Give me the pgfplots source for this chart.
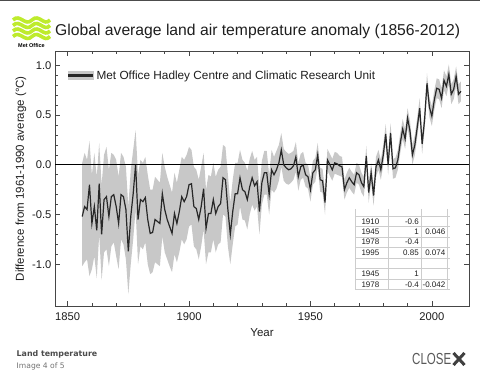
\documentclass[border=0pt]{standalone}
\usepackage{pgfplots}
\pgfplotsset{compat=1.18}
\usepackage{pgfplotstable}
\usepgfplotslibrary{fillbetween}
\usepackage{fontspec}
\setmainfont{Liberation Sans}
\newfontfamily\dejavu{DejaVu Sans}
\definecolor{bandc}{RGB}{200,200,200}
\definecolor{linec}{RGB}{40,40,40}
\definecolor{axc}{RGB}{70,70,70}
\definecolor{txt}{RGB}{30,30,30}
\definecolor{lime}{RGB}{190,235,45}
\definecolor{gridc}{RGB}{205,205,205}

\pgfplotstableread{
year val lo hi
1856 -0.52 -1.02 0.02
1857 -0.42 -0.98 0.12
1858 -0.45 -0.95 0.05
1859 -0.20 -1.12 0.24
1860 -0.59 -1.05 -0.10
1861 -0.42 -0.92 0.12
1862 -0.66 -1.14 -0.12
1863 -0.19 -0.70 0.22
1864 -0.70 -1.16 -0.20
1865 -0.35 -0.88 0.10
1866 -0.32 -0.85 0.18
1867 -0.52 -1.02 -0.05
1868 -0.32 -0.82 0.12
1869 -0.30 -0.78 0.10
1870 -0.42 -0.92 0.05
1871 -0.59 -1.05 -0.12
1872 -0.30 -0.75 0.12
1873 -0.32 -0.80 0.08
1874 -0.45 -0.95 -0.02
1875 -0.87 -1.30 -0.42
1876 -0.52 -1.00 -0.05
1877 -0.29 -0.75 0.15
1878 0.00 -0.45 0.35
1879 -0.55 -1.00 -0.10
1880 -0.35 -0.82 0.05
1881 -0.37 -0.85 0.02
1882 -0.33 -0.78 0.08
1883 -0.55 -1.00 -0.10
1884 -0.69 -1.10 -0.25
1885 -0.68 -1.08 -0.25
1886 -0.55 -0.98 -0.12
1887 -0.57 -1.00 -0.15
1888 -0.59 -1.02 -0.18
1889 -0.29 -0.72 0.12
1890 -0.45 -0.88 -0.02
1891 -0.55 -0.95 -0.12
1892 -0.62 -1.02 -0.20
1893 -0.69 -1.08 -0.28
1894 -0.49 -0.90 -0.08
1895 -0.59 -0.98 -0.18
1896 -0.47 -0.88 -0.05
1897 -0.32 -0.75 0.08
1898 -0.37 -0.80 0.05
1899 -0.32 -0.75 0.10
1900 -0.20 -0.62 0.18
1901 -0.19 -0.60 0.15
1902 -0.42 -0.82 -0.02
1903 -0.44 -0.85 -0.05
1904 -0.55 -0.95 -0.15
1905 -0.42 -0.82 -0.02
1906 -0.24 -0.65 0.12
1907 -0.64 -1.00 -0.25
1908 -0.49 -0.88 -0.10
1909 -0.49 -0.88 -0.12
1910 -0.35 -0.75 0.02
1911 -0.49 -0.88 -0.12
1912 -0.42 -0.80 -0.05
1913 -0.39 -0.78 -0.02
1914 -0.13 -0.50 0.20
1915 -0.15 -0.52 0.18
1916 -0.45 -0.82 -0.10
1917 -0.70 -1.00 -0.38
1918 -0.47 -0.80 -0.15
1919 -0.29 -0.62 0.02
1920 -0.29 -0.60 0.02
1921 -0.13 -0.42 0.15
1922 -0.25 -0.55 0.05
1923 -0.27 -0.56 0.02
1924 -0.35 -0.65 -0.06
1925 -0.22 -0.50 0.06
1926 -0.13 -0.40 0.14
1927 -0.21 -0.46 0.05
1928 -0.17 -0.42 0.08
1929 -0.47 -0.70 -0.24
1930 -0.18 -0.40 0.04
1931 -0.08 -0.30 0.14
1932 -0.08 -0.30 0.14
1933 -0.30 -0.50 -0.10
1934 -0.05 -0.25 0.15
1935 -0.10 -0.28 0.08
1936 -0.05 -0.24 0.14
1937 0.02 -0.16 0.20
1938 0.15 -0.02 0.32
1939 0.00 -0.16 0.16
1940 -0.03 -0.19 0.13
1941 -0.05 -0.20 0.11
1942 -0.04 -0.18 0.12
1943 -0.01 -0.15 0.14
1944 0.08 -0.07 0.23
1945 -0.12 -0.26 0.02
1946 -0.02 -0.15 0.11
1947 0.00 -0.13 0.13
1948 -0.10 -0.22 0.02
1949 -0.12 -0.24 0.00
1950 -0.25 -0.37 -0.13
1951 -0.08 -0.20 0.04
1952 -0.05 -0.17 0.07
1953 0.10 -0.02 0.22
1954 -0.15 -0.27 -0.03
1955 -0.16 -0.28 -0.04
1956 -0.38 -0.50 -0.26
1957 0.05 -0.06 0.16
1958 0.00 -0.11 0.11
1959 -0.05 -0.16 0.06
1960 0.02 -0.09 0.13
1961 0.01 -0.10 0.12
1962 -0.01 -0.11 0.09
1963 -0.02 -0.12 0.08
1964 -0.25 -0.35 -0.15
1965 -0.18 -0.28 -0.08
1966 -0.13 -0.23 -0.03
1967 -0.17 -0.27 -0.07
1968 -0.20 -0.30 -0.10
1969 -0.08 -0.18 0.02
1970 -0.10 -0.20 0.00
1971 -0.18 -0.28 -0.08
1972 -0.22 -0.32 -0.12
1973 0.09 -0.01 0.19
1974 -0.28 -0.38 -0.18
1975 -0.08 -0.18 0.02
1976 -0.31 -0.41 -0.21
1977 -0.02 -0.12 0.08
1978 0.05 -0.05 0.15
1979 -0.05 -0.15 0.05
1980 0.10 0.00 0.20
1981 0.31 0.21 0.41
1982 0.00 -0.10 0.10
1983 0.32 0.22 0.42
1984 -0.04 -0.14 0.06
1985 -0.03 -0.13 0.07
1986 0.05 -0.05 0.15
1987 0.22 0.12 0.32
1988 0.36 0.26 0.46
1989 0.26 0.16 0.36
1990 0.47 0.37 0.57
1991 0.34 0.24 0.44
1992 0.10 0.00 0.20
1993 0.20 0.10 0.30
1994 0.38 0.28 0.48
1995 0.57 0.47 0.67
1996 0.21 0.11 0.31
1997 0.45 0.35 0.55
1998 0.82 0.72 0.92
1999 0.58 0.48 0.68
2000 0.49 0.39 0.59
2001 0.65 0.55 0.75
2002 0.77 0.67 0.87
2003 0.76 0.66 0.86
2004 0.67 0.57 0.77
2005 0.85 0.75 0.95
2006 0.79 0.69 0.89
2007 0.91 0.81 1.01
2008 0.71 0.61 0.81
2009 0.76 0.66 0.86
2010 0.89 0.79 0.99
2011 0.71 0.61 0.81
2012 0.74 0.64 0.84
}\landdata

\begin{document}
\begin{tikzpicture}
\fill[black!70] (0pt,377.5pt) rectangle (480pt,379pt);

\begin{axis}[
  at={(55pt,73pt)}, anchor=south west,
  scale only axis, width=414pt, height=254.5pt,
  xmin=1844.8, xmax=2015.3, ymin=-1.42, ymax=1.14,
  xtick={1850,1900,1950,2000}, minor x tick num=4,
  ytick={-1,-0.5,0,0.5,1}, minor y tick num=4,
  tick align=inside, major tick length=5pt, minor tick length=2.8pt,
  axis line style={axc, line width=0.9pt},
  tick style={axc, line width=0.7pt},
  /pgf/number format/assume math mode=true,
  xticklabel style={/pgf/number format/1000 sep={}, yshift=-3pt},
  yticklabel style={/pgf/number format/.cd, fixed, fixed zerofill, precision=1},
  tick label style={font=\fontsize{11.2}{12}\selectfont, text=txt},
  label style={font=\fontsize{11.5}{12}\selectfont, text=txt},
  xlabel={Year}, ylabel={Difference from 1961-1990 average (°C)},
  xlabel style={yshift=-1pt},
  ylabel style={yshift=-1pt},
  legend style={at={(0.028,0.905)}, anchor=west, draw=none, fill=none,
    inner sep=0pt, font=\fontsize{11.8}{12}\selectfont, text=txt},
  legend cell align=left,
  legend image code/.code={
    \fill[bandc] (0pt,-4pt) rectangle (25pt,4pt);
    \draw[linec, line width=2.8pt] (0pt,0pt) -- (25pt,0pt);},
]
\addplot[draw=none, name path=hi, forget plot] table[x=year, y=hi]{\landdata};
\addplot[draw=none, name path=lo, forget plot] table[x=year, y=lo]{\landdata};
\addplot[bandc, fill=bandc, draw=none, forget plot] fill between[of=hi and lo];
\addplot[black, line width=0.9pt, forget plot] coordinates {(1844.8,0) (2015.3,0)};
\addplot[linec, line width=1.2pt] table[x=year, y=val]{\landdata};
\addlegendentry{Met Office Hadley Centre and Climatic Research Unit}
\end{axis}

\begin{scope}[x=1pt, y=1pt]
% title
\node[anchor=west, inner sep=0pt, text=txt, font=\fontsize{15.7}{16}\selectfont] at (55,348) {Global average land air temperature anomaly (1856-2012)};
% logo
\foreach \dy in {0,5.5,11,16.5} {
  \draw[lime, line width=3.6pt] (13,359-\dy) .. controls (20,366-\dy) and (25,352-\dy) .. (32,359-\dy) .. controls (39,366-\dy) and (44,352-\dy) .. (50,359-\dy);
}
\node[inner sep=0pt, font=\bfseries\fontsize{5.5}{6}\selectfont] at (31.5,333) {Met Office};
% table
\foreach \yy in {216,226.7,237,247.3,258,268.7,279,289.3}
  \draw[gridc, line width=0.5pt] (355,379-\yy) -- (450,379-\yy);
\foreach \xx in {355,388,421,447}
  \draw[gridc, line width=0.5pt] (\xx,379-209) -- (\xx,379-290);
\begin{scope}[every node/.style={inner sep=0pt, font=\fontsize{8}{8}\selectfont, text=txt}]
\node[anchor=east] at (379.5,379-221.3) {1910};
\node[anchor=east] at (419,379-221.3) {-0.6};
\node[anchor=east] at (379.5,379-231.7) {1945};
\node[anchor=east] at (419,379-231.7) {1};
\node[anchor=east] at (445.5,379-231.7) {0.046};
\node[anchor=east] at (379.5,379-242) {1978};
\node[anchor=east] at (419,379-242) {-0.4};
\node[anchor=east] at (379.5,379-252.7) {1995};
\node[anchor=east] at (419,379-252.7) {0.85};
\node[anchor=east] at (445.5,379-252.7) {0.074};
\node[anchor=east] at (379.5,379-274) {1945};
\node[anchor=east] at (419,379-274) {1};
\node[anchor=east] at (379.5,379-284.3) {1978};
\node[anchor=east] at (419,379-284.3) {-0.4};
\node[anchor=east] at (445.5,379-284.3) {-0.042};
\end{scope}
% footer
\node[anchor=west, inner sep=0pt, text=black!70, font=\dejavu\bfseries\fontsize{7.9}{8}\selectfont] at (16.5,379-354.3) {Land temperature};
\node[anchor=west, inner sep=0pt, text=black!55, font=\dejavu\fontsize{7.6}{8}\selectfont] at (16.5,379-366.3) {Image 4 of 5};
\node[anchor=west, inner sep=0pt, text=black!65] at (412,379-359) {\scalebox{0.72}[1]{\fontsize{16}{16}\selectfont CLOSE}};
\draw[black!75, line width=3pt] (453.5,379-353) -- (464.5,379-365);
\draw[black!75, line width=3pt] (453.5,379-365) -- (464.5,379-353);
\end{scope}
\pgfresetboundingbox
\path[use as bounding box] (0pt,0pt) rectangle (480pt,379pt);
\end{tikzpicture}
\end{document}
